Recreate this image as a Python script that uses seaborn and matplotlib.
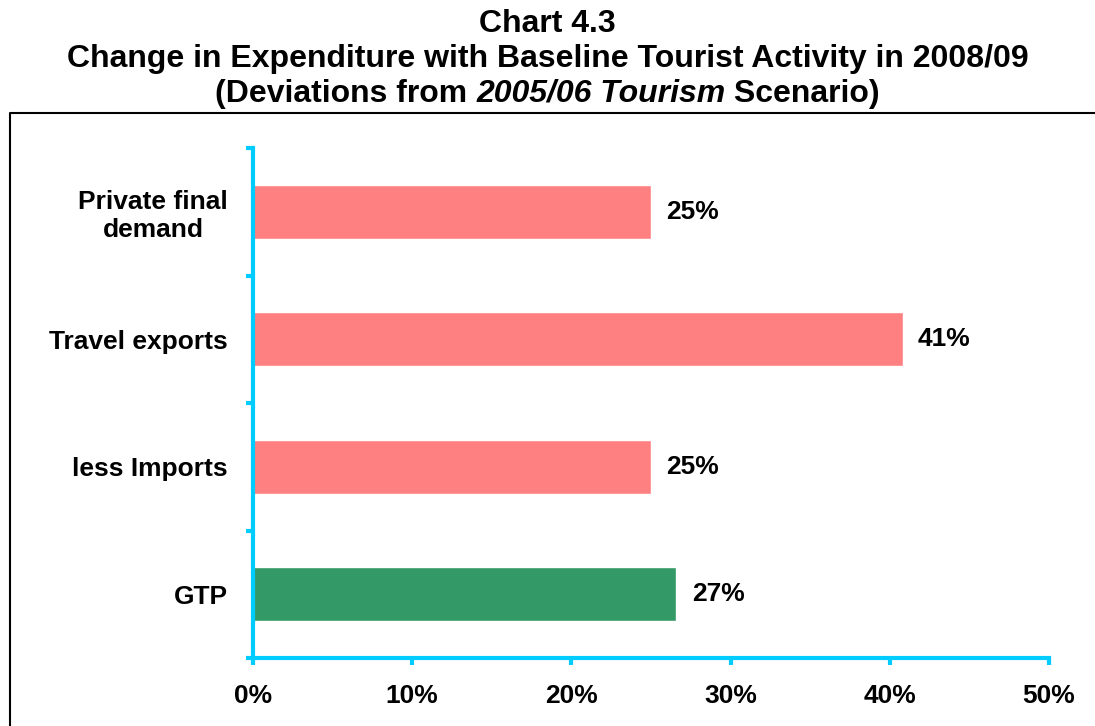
import matplotlib
matplotlib.use("Agg")
import matplotlib.pyplot as plt
import seaborn as sns
import pandas as pd
from matplotlib.lines import Line2D
from matplotlib.ticker import FixedLocator, FuncFormatter

categories = ["Private final\ndemand", "Travel exports", "less Imports", "GTP"]
values = [25.0, 40.8, 25.0, 26.6]
value_labels = ["25%", "41%", "25%", "27%"]
bar_colors = ["#FF8080", "#FF8080", "#FF8080", "#339966"]
x_ticks = [0, 10, 20, 30, 40, 50]

sns.set_style("white")
plt.rcParams["font.family"] = ["Liberation Sans", "DejaVu Sans"]
plt.rcParams["font.weight"] = "bold"
plt.rcParams["text.color"] = "black"
plt.rcParams["xtick.labelcolor"] = "black"
plt.rcParams["ytick.labelcolor"] = "black"

df = pd.DataFrame({"cat": categories, "val": values})

fig = plt.figure(figsize=(10.95, 7.26), dpi=100)
ax = fig.add_axes([253 / 1095, 1 - 658 / 726, (1049 - 253) / 1095, (658 - 148) / 726])

sns.barplot(data=df, y="cat", x="val", hue="cat", palette=bar_colors,
            legend=False, width=0.42, orient="h", ax=ax, saturation=1)

ax.set_xlim(0, 50)
ax.set_ylim(3.5, -0.5)
ax.set_xlabel("")
ax.set_ylabel("")

cyan = "#00CCFF"
for s in ["top", "right"]:
    ax.spines[s].set_visible(False)
for s in ["left", "bottom"]:
    ax.spines[s].set_color(cyan)
    ax.spines[s].set_linewidth(3)

ax.xaxis.set_major_locator(FixedLocator(x_ticks))
ax.xaxis.set_major_formatter(FuncFormatter(lambda v, p: f"{v:.0f}%"))
ax.tick_params(axis="x", which="major", direction="out", length=5, width=3,
               color=cyan, pad=14, labelsize=19, bottom=True, labelcolor="black")
for lab in ax.get_xticklabels():
    lab.set_fontweight("bold")

ax.yaxis.set_minor_locator(FixedLocator([-0.5, 0.5, 1.5, 2.5, 3.5]))
ax.tick_params(axis="y", which="minor", direction="out", length=5, width=3,
               color=cyan, left=True)
ax.tick_params(axis="y", which="major", length=0, pad=18, labelsize=19, left=True,
               labelcolor="black")
for lab in ax.get_yticklabels():
    lab.set_fontweight("bold")
    lab.set_multialignment("center")

for i, (v, t) in enumerate(zip(values, value_labels)):
    ax.annotate(t, xy=(v, i), xytext=(11, 0), textcoords="offset points",
                ha="left", va="center", fontsize=19, fontweight="bold", color="black")

# Frame around chart area (top and left edges visible)
fig.add_artist(Line2D([10 / 1095, 10 / 1095, 1.0], [0.0, 1 - 113 / 726, 1 - 113 / 726],
                      transform=fig.transFigure, color="black", linewidth=1.5))

# Title
fs = 23
fig.text(0.5, 1 - 32 / 726, "Chart 4.3", ha="center", va="baseline",
         fontsize=fs, fontweight="bold", color="black")
fig.text(0.5, 1 - 67 / 726, "Change in Expenditure with Baseline Tourist Activity in 2008/09",
         ha="center", va="baseline", fontsize=fs, fontweight="bold", color="black")

parts = [("(Deviations from ", "normal"), ("2005/06 Tourism", "italic"), (" Scenario)", "normal")]
renderer = fig.canvas.get_renderer()
texts = []
widths = []
for s, style in parts:
    t = fig.text(0, 1 - 102 / 726, s, ha="left", va="baseline", fontsize=fs,
                 fontweight="bold", fontstyle=style, color="black")
    bb = t.get_window_extent(renderer=renderer)
    texts.append(t)
    widths.append(bb.width / fig.bbox.width)
total = sum(widths)
x0 = 0.5 - total / 2
for t, w in zip(texts, widths):
    t.set_x(x0)
    x0 += w

fig.savefig("out.png", dpi=100)
